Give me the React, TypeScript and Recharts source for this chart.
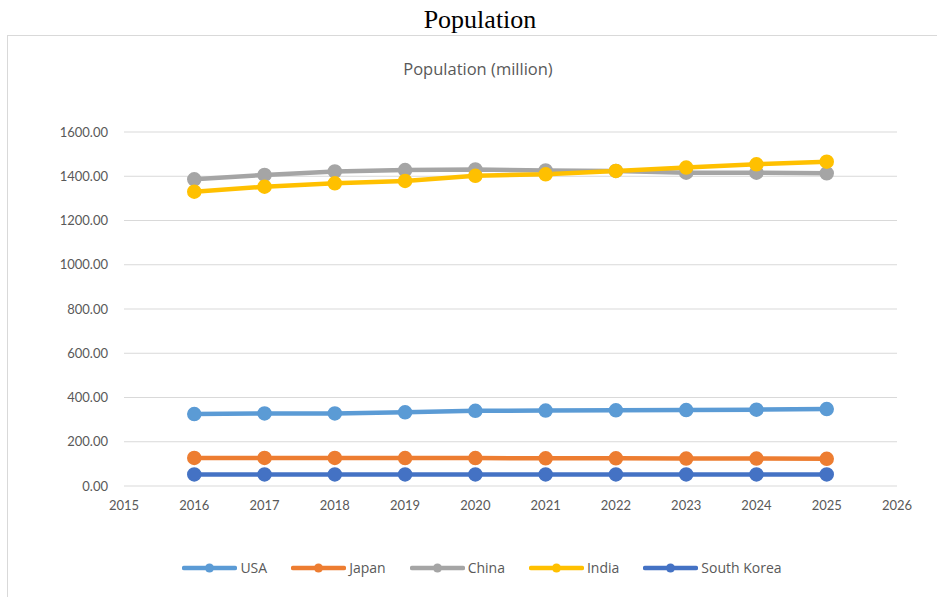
import React from "react";
import {
  LineChart,
  Line,
  XAxis,
  YAxis,
  CartesianGrid,
} from "recharts";

const YEARS = [2016, 2017, 2018, 2019, 2020, 2021, 2022, 2023, 2024, 2025];
const USA = [325, 328, 328, 333, 340, 341, 342, 343, 345, 348];
const JAPAN = [127, 127, 127, 126, 126, 125, 125, 124, 124, 123];
const CHINA = [1386, 1406, 1422, 1428, 1431, 1426, 1424, 1416, 1416, 1413];
const INDIA = [1330, 1353, 1368, 1379, 1402, 1409, 1424, 1439, 1454, 1466];
const SOUTH_KOREA = [52, 52, 52, 52, 52, 52, 52, 52, 52, 52];

const X_TICKS = [2015, 2016, 2017, 2018, 2019, 2020, 2021, 2022, 2023, 2024, 2025, 2026];
const Y_TICKS = [0, 200, 400, 600, 800, 1000, 1200, 1400, 1600];

const SERIES = [
  { key: "usa", name: "USA", color: "#5B9BD5" },
  { key: "japan", name: "Japan", color: "#ED7D31" },
  { key: "china", name: "China", color: "#A5A5A5" },
  { key: "india", name: "India", color: "#FFC000" },
  { key: "southKorea", name: "South Korea", color: "#4472C4" },
];

const data = YEARS.map((year, i) => ({
  year,
  usa: USA[i],
  japan: JAPAN[i],
  china: CHINA[i],
  india: INDIA[i],
  southKorea: SOUTH_KOREA[i],
}));

const FONT = "Lato, 'Open Sans', sans-serif";
const LABEL_FONT = "'Open Sans', Lato, sans-serif";
const TEXT = "#595959";

function LegendIcon({ color }: { color: string }) {
  return (
    <svg width={55} height={10} style={{ marginRight: 3 }}>
      <line x1={2} y1={5} x2={53} y2={5} stroke={color} strokeWidth={4.5} strokeLinecap="round" />
      <circle cx={27.5} cy={5} r={4.5} fill={color} />
    </svg>
  );
}

export default function App() {
  return (
    <div
      style={{
        position: "fixed",
        inset: 0,
        overflow: "hidden",
        background: "#fff",
      }}
    >
      <div
        style={{
          position: "absolute",
          left: 0,
          width: 960,
          top: 3,
          textAlign: "center",
          fontFamily: "'Liberation Serif', 'Times New Roman', serif",
          fontSize: 26,
          lineHeight: "34px",
          color: "#000",
        }}
      >
        Population
      </div>
      {/* chart frame */}
      <div
        style={{
          position: "absolute",
          left: 7,
          top: 35,
          width: 1000,
          height: 700,
          border: "1px solid #d9d9d9",
        }}
      />
      <div
        style={{
          position: "absolute",
          left: 0,
          width: 956,
          top: 58,
          textAlign: "center",
          fontFamily: LABEL_FONT,
          fontSize: 16.5,
          lineHeight: "22px",
          color: TEXT,
        }}
      >
        Population (million)
      </div>
      <div style={{ position: "absolute", left: 0, top: 0 }}>
        <LineChart
          width={937}
          height={597}
          data={data}
          margin={{ top: 132, right: 40, bottom: 81, left: 0 }}
        >
          <CartesianGrid stroke="#d9d9d9" strokeWidth={1.2} vertical={false} />
          <XAxis
            dataKey="year"
            type="number"
            domain={[2015, 2026]}
            ticks={X_TICKS}
            interval={0}
            axisLine={false}
            tickLine={false}
            tickSize={0}
            tickMargin={15}
            height={30}
            tick={{ fill: TEXT, fontSize: 13, fontFamily: FONT }}
          />
          <YAxis
            domain={[0, 1600]}
            ticks={Y_TICKS}
            interval={0}
            width={124}
            axisLine={false}
            tickLine={false}
            tickSize={0}
            tickMargin={16}
            tickFormatter={(v: number) => v.toFixed(2)}
            tick={{ fill: TEXT, fontSize: 13, fontFamily: FONT }}
          />
          {SERIES.map((s) => (
            <Line
              key={s.key}
              dataKey={s.key}
              name={s.name}
              type="linear"
              stroke={s.color}
              strokeWidth={4.5}
              dot={{ r: 6.5, fill: s.color, stroke: s.color, strokeWidth: 1.5 }}
              activeDot={false}
              isAnimationActive={false}
            />
          ))}
        </LineChart>
      </div>
      <div
        style={{
          position: "absolute",
          left: 0,
          width: 988,
          top: 558,
          display: "flex",
          justifyContent: "center",
          alignItems: "center",
          fontFamily: LABEL_FONT,
          fontSize: 14,
          color: TEXT,
        }}
      >
        {SERIES.map((s) => (
          <div
            key={s.key}
            style={{ display: "flex", alignItems: "center", marginRight: 24 }}
          >
            <LegendIcon color={s.color} />
            <span>{s.name}</span>
          </div>
        ))}
      </div>
    </div>
  );
}
